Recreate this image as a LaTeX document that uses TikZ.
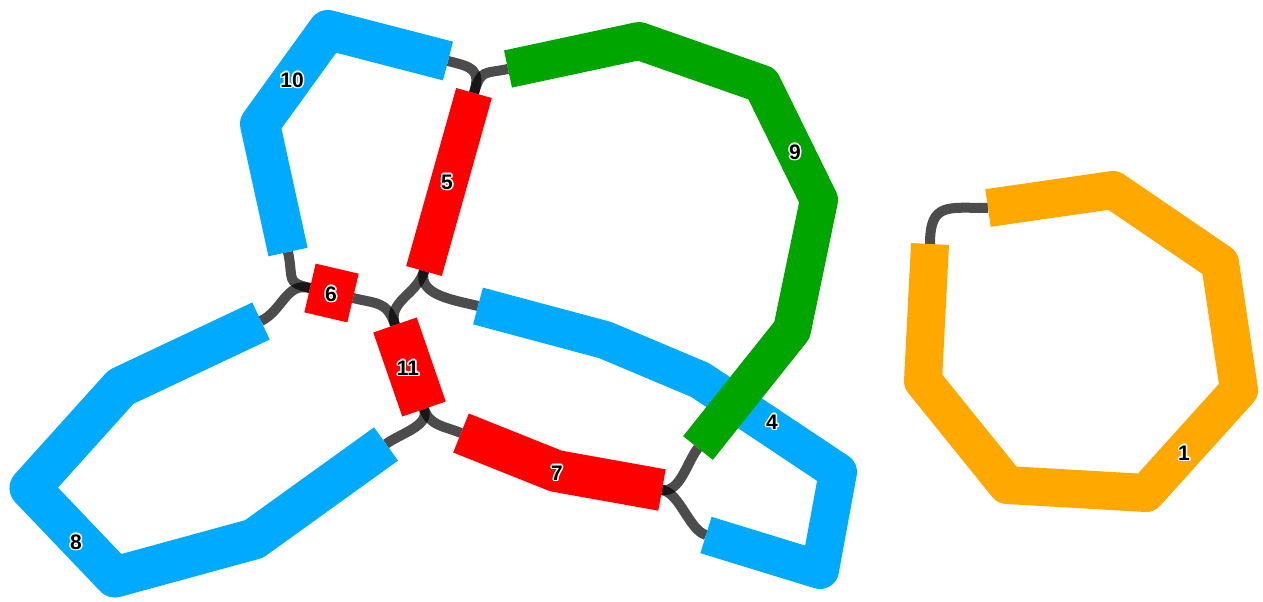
\documentclass[tikz,border=0pt]{standalone}
\usepackage{fontspec}
\setmainfont{Liberation Sans}
\definecolor{segblue}{RGB}{0,170,255}
\definecolor{segred}{RGB}{255,0,0}
\definecolor{seggreen}{RGB}{0,165,0}
\definecolor{segorange}{RGB}{255,168,0}
\tikzset{
  link/.style={line width=10, draw=black, draw opacity=0.7, line cap=butt},
  segline/.style={line width=#1, line join=round, line cap=butt},
  lbl/.style={font=\bfseries\fontsize{21}{21}\selectfont, inner sep=0pt}
}
\newcommand\wcopy[3]{\rlap{\kern#1pt\raisebox{#2pt}{\textcolor{white}{#3}}}}
\newcommand\outl[1]{\leavevmode\wcopy{1.5}{0}{#1}\wcopy{-1.5}{0}{#1}\wcopy{0}{1.5}{#1}\wcopy{0}{-1.5}{#1}%
  \wcopy{1.1}{1.1}{#1}\wcopy{-1.1}{1.1}{#1}\wcopy{1.1}{-1.1}{#1}\wcopy{-1.1}{-1.1}{#1}#1}
\begin{document}
\begin{tikzpicture}[x=1pt,y=-1pt]
\useasboundingbox (0,0) rectangle (1263,602);
% segment end points
\coordinate (s10a) at (288,252); \coordinate (s10b) at (448,61);
\coordinate (s5a) at (474,93);   \coordinate (s5b) at (424,271);
\coordinate (s9a) at (508,69);   \coordinate (s9b) at (698,448);
\coordinate (s4a) at (478,306);  \coordinate (s4b) at (706,535);
\coordinate (s6a) at (310,288);  \coordinate (s6b) at (353,298);
\coordinate (s11a) at (395,325); \coordinate (s11b) at (424,409);
\coordinate (s7a) at (461,433);  \coordinate (s7b) at (662,490);
\coordinate (s8a) at (261,321);  \coordinate (s8b) at (386,444);
\coordinate (s1a) at (988,208);  \coordinate (s1b) at (930,244);
% connectors
\draw[link] (s10a) .. controls (294,280) and (285,282) .. (s6a);
\draw[link] (s8a) .. controls (283,310) and (286,282) .. (s6a);
\draw[link] (s10b) .. controls (472,67) and (481,69) .. (s5a);
\draw[link] (s9a) .. controls (484,74) and (481,69) .. (s5a);
\draw[link] (s5b) .. controls (417,295) and (454,300) .. (s4a);
\draw[link] (s5b) .. controls (417,295) and (387,301) .. (s11a);
\draw[link] (s6b) .. controls (377,304) and (387,301) .. (s11a);
\draw[link] (s11b) .. controls (430,426) and (401,433) .. (s8b);
\draw[link] (s11b) .. controls (430,426) and (444,426) .. (s7a);
\draw[link] (s7b) .. controls (680,493) and (687,462) .. (s9b);
\draw[link] (s7b) .. controls (680,493) and (689,530) .. (s4b);
\draw[link] (s1b) .. controls (930,202) and (948,208) .. (s1a);
% segments
\draw[segline=40, draw=segblue] (s10a) -- (260,124) -- (328,30) -- (s10b);
\draw[segline=41, draw=segblue] (s8a) -- (121,387) -- (30,488) -- (115,577) -- (254,539) -- (s8b);
\draw[segline=38, draw=segblue] (s4a) -- (605,340) -- (700,380) -- (838,472) -- (820,570) -- (s4b);
\draw[segline=38, draw=seggreen] (s9a) -- (639,41) -- (762,84) -- (819,200) -- (792,330) -- (s9b);
\draw[segline=37, draw=segred] (s5a) -- (s5b);
\draw[segline=50, draw=segred] (s6a) -- (s6b);
\draw[segline=46, draw=segred] (s11a) -- (s11b);
\draw[segline=42, draw=segred] (s7a) -- (556,471) -- (s7b);
\draw[segline=38, draw=segorange] (s1a) -- (1113,190) -- (1220,263) -- (1239,390) -- (1146,493) -- (1007,485) -- (923,381) -- (s1b);
% labels
\node[lbl] (L10) at (292,80) {\outl{10}};
\node[lbl] (L5) at (447,182) {\outl{5}};
\node[lbl] (L9) at (795,152) {\outl{9}};
\node[lbl] (L6) at (331,294) {\outl{6}};
\node[lbl] (L11) at (408,368) {\outl{11}};
\node[lbl] (L7) at (557,473) {\outl{7}};
\node[lbl] (L4) at (772,422) {\outl{4}};
\node[lbl] (L8) at (76,542) {\outl{8}};
\node[lbl] (L1) at (1184,453) {\outl{1}};
\end{tikzpicture}
\end{document}
